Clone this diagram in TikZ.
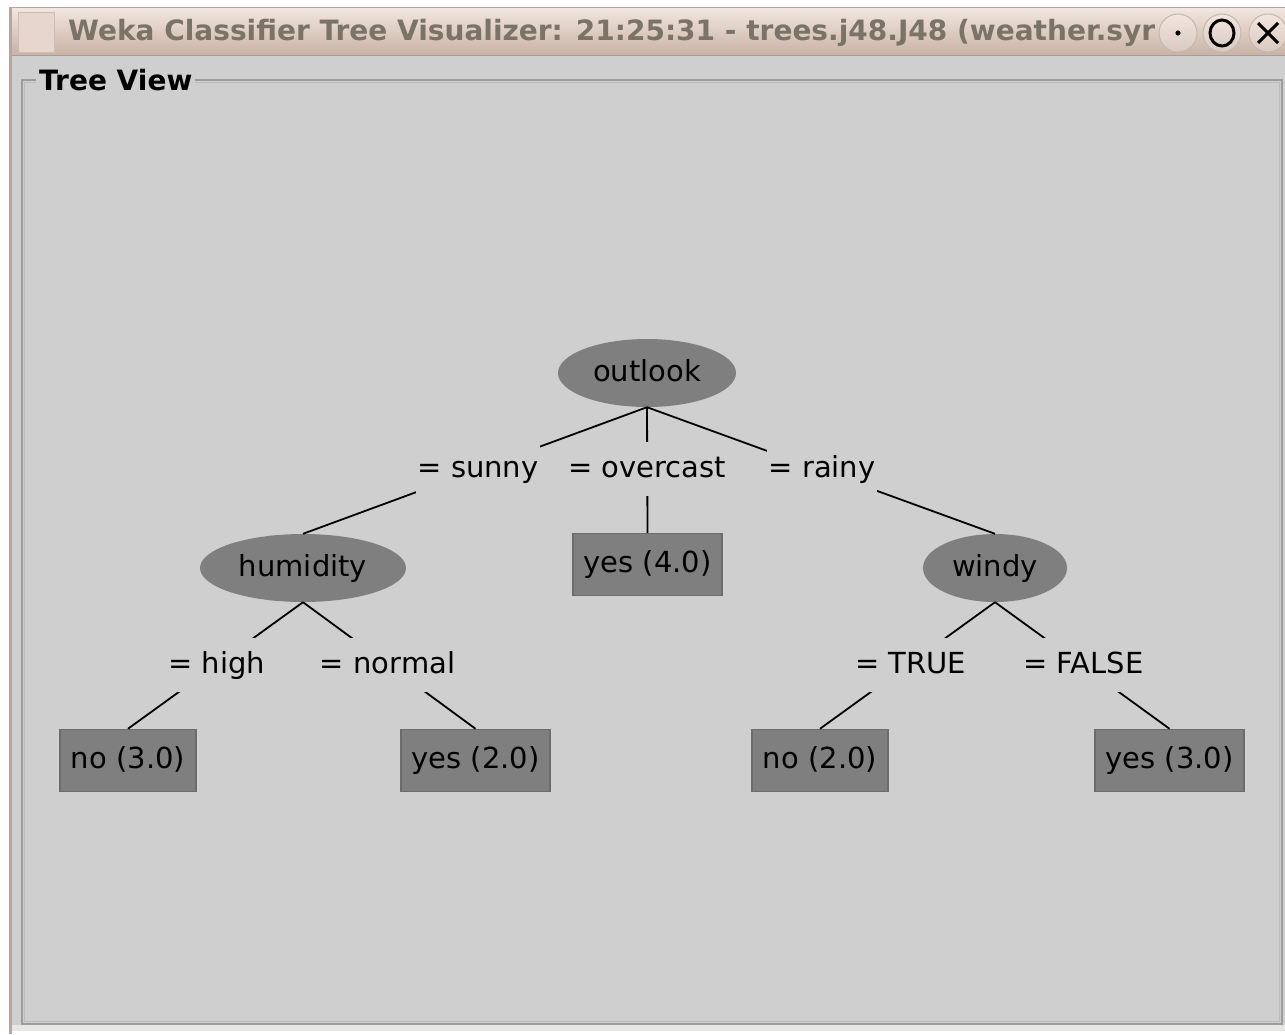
\documentclass[tikz,border=0pt]{standalone}
\usepackage{fontspec}
\setmainfont{DejaVu Sans}
\usetikzlibrary{shapes.geometric,calc}
\definecolor{panel}{HTML}{CFCFCF}
\definecolor{nodefill}{HTML}{807F80}
\definecolor{leafedge}{HTML}{6C6C6C}
\definecolor{framebrown}{HTML}{B8A69C}
\definecolor{bartop}{HTML}{F2E6DE}
\definecolor{barbot}{HTML}{C9B2A6}
\definecolor{titlegray}{HTML}{7A7368}
\definecolor{rulegray}{HTML}{9C9C9C}
\definecolor{rulelight}{HTML}{BDBDBD}
\definecolor{bottomstrip}{HTML}{E8E6E2}
\definecolor{barline}{HTML}{A89C94}
\definecolor{btnedge}{HTML}{CDBDB3}
\newcommand{\nodefont}{\fontsize{29}{34}\selectfont}
\newcommand{\barfont}{\fontsize{28}{33}\selectfont\bfseries}
\begin{document}
\begin{tikzpicture}[x=1pt,y=-1pt,
  every node/.style={inner sep=0pt},
  treetext/.style={font=\nodefont, text height=22pt, text depth=6pt},
  splitnode/.style={ellipse, fill=nodefill, minimum width=#1, minimum height=68, treetext},
  leafnode/.style={rectangle, fill=nodefill, draw=leafedge, line width=1.5pt, minimum width=#1, minimum height=62, treetext},
  branchlabel/.style={fill=panel, inner xsep=2pt, minimum height=54, treetext},
  treeline/.style={line width=1.8pt, black},
  winbutton/.style={circle, minimum size=38, draw=framebrown!80, line width=1pt, top color=bartop, bottom color=barbot!70}]
\useasboundingbox (0,0) rectangle (1285,1034);
% window background and frame
\fill[white] (0,0) rectangle (1285,1034);
\fill[panel] (12,56) rectangle (1285,1030);
\fill[framebrown] (9,8) rectangle (12,1034);
\fill[bottomstrip] (12,1025) rectangle (1285,1031);
% title bar
\shade[top color=bartop, bottom color=barbot] (12,8) rectangle (1285,55);
\draw[framebrown, line width=1.5pt] (9,7.5) -- (1285,7.5);
\draw[barline, line width=1.5pt] (12,55.5) -- (1285,55.5);
\node[draw=btnedge, fill=bartop!70!barbot, line width=1pt, minimum width=36, minimum height=40] (menubtn) at (36,32) {};
\node[anchor=west, text=titlegray, font=\barfont] (wintitle) at (68,33) {Weka Classifier Tree Visualizer: 21:25:31 - trees.j48.J48 (weather.syr};
\node[winbutton] (iconify) at (1178,33) {};
\fill[black] (iconify) circle (2.6);
\node[winbutton] (maximize) at (1222,33) {};
\draw[black, line width=3pt] (maximize) ellipse (12 and 13);
\node[winbutton] (closebtn) at (1268,33) {};
\draw[black, line width=3pt] ($(closebtn)+(-10,-10)$) -- ($(closebtn)+(10,10)$);
\draw[black, line width=3pt] ($(closebtn)+(-10,10)$) -- ($(closebtn)+(10,-10)$);
% titled border
\draw[rulegray, line width=2pt] (22,80) rectangle (1282,1024);
\draw[rulelight, line width=1pt] (24.5,82.5) rectangle (1279.5,1021.5);
\node[anchor=west, fill=panel, inner xsep=3pt, font=\barfont, text=black] (treeview) at (36,80) {Tree View};
% tree nodes
\node[splitnode=178] (outlook) at (647,373) {outlook};
\node[splitnode=206] (humidity) at (303,568) {humidity};
\node[splitnode=144] (windy) at (995,568) {windy};
\node[leafnode=149] (yesA) at (647.5,564.5) {yes (4.0)};
\node[leafnode=136] (noA) at (128,760.5) {no (3.0)};
\node[leafnode=149] (yesB) at (475.5,760.5) {yes (2.0)};
\node[leafnode=136] (noB) at (820,760.5) {no (2.0)};
\node[leafnode=149] (yesC) at (1169.5,760.5) {yes (3.0)};
% connectors
\draw[treeline] (outlook.south) -- (humidity.north);
\draw[treeline] (outlook.south) -- (yesA.north);
\draw[treeline] (outlook.south) -- (windy.north);
\draw[treeline] (humidity.south) -- (noA.north);
\draw[treeline] (humidity.south) -- (yesB.north);
\draw[treeline] (windy.south) -- (noB.north);
\draw[treeline] (windy.south) -- (yesC.north);
% branch labels over the connectors
\node[branchlabel] (lsunny) at (478,469) {= sunny};
\node[branchlabel] (lovercast) at (647,469) {= overcast};
\node[branchlabel] (lrainy) at (822,469) {= rainy};
\node[branchlabel] (lhigh) at (216.5,665) {= high};
\node[branchlabel] (lnormal) at (387.5,665) {= normal};
\node[branchlabel] (ltrue) at (910.5,665) {= TRUE};
\node[branchlabel] (lfalse) at (1083.5,665) {= FALSE};
\end{tikzpicture}
\end{document}
